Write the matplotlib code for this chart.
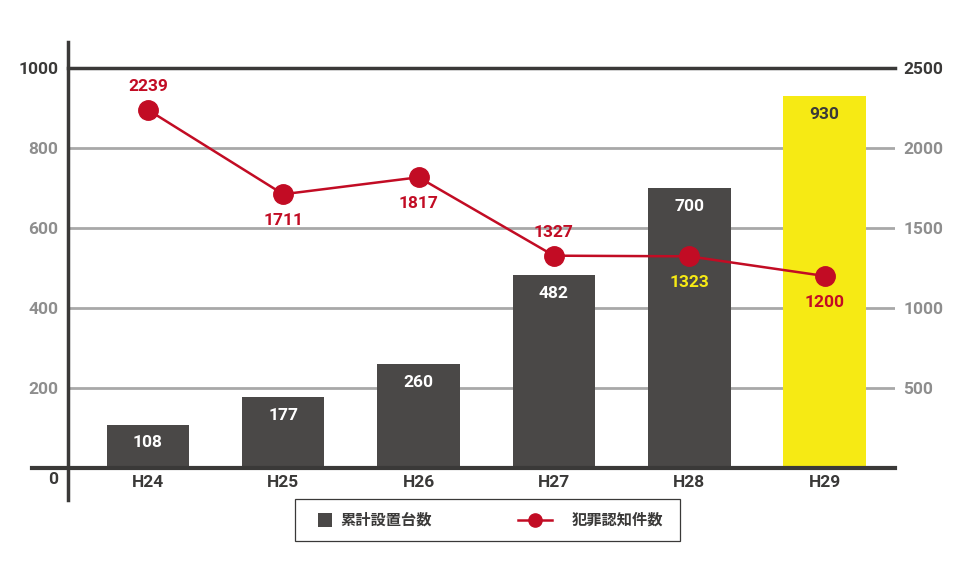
import matplotlib.pyplot as plt
from matplotlib.patches import Rectangle
from matplotlib.lines import Line2D

plt.rcParams['font.family'] = ['Roboto', 'Noto Sans CJK JP', 'DejaVu Sans']
plt.rcParams['font.weight'] = 'bold'

years = ['H24', 'H25', 'H26', 'H27', 'H28', 'H29']
installed = [108, 177, 260, 482, 700, 930]
crimes = [2239, 1711, 1817, 1327, 1323, 1200]
left_ticks = [200, 400, 600, 800, 1000]
right_ticks = [500, 1000, 1500, 2000, 2500]

DARK = '#3a3938'
BAR = '#4a4847'
YELLOW = '#f6ea14'
RED = '#c20c24'
GREY = '#8e8e8e'
GRID = '#a8a8a8'
FS = 12.5

W, H = 960, 566
fig = plt.figure(figsize=(W / 100, H / 100), dpi=100)
ax = fig.add_axes([68 / W, 1 - 468 / H, 827 / W, 400 / H])
ax2 = ax.twinx()

x = list(range(len(years)))
colors = [BAR] * (len(years) - 1) + [YELLOW]
ax.bar(x, installed, width=0.61, color=colors, zorder=3)
ax.set_xlim(-0.59, 5.52)
ax.set_ylim(0, 1000)
ax2.set_ylim(0, 2500)

for s in ['top', 'bottom', 'left', 'right']:
    ax.spines[s].set_visible(False)
    ax2.spines[s].set_visible(False)

# grid lines
for v in left_ticks[:-1]:
    ax.axhline(v, color=GRID, lw=2, zorder=1)
ax.axhline(1000, color=DARK, lw=2.5, zorder=1, clip_on=False)
ax.plot([-0.0435, 1], [0, 0], transform=ax.get_yaxis_transform(),
        color=DARK, lw=3, zorder=5, clip_on=False)
fig.add_artist(Line2D([68 / W, 68 / W], [1 - 42 / H, 1 - 500 / H],
                      color=DARK, lw=2.5))

# ticks
ax.set_xticks(x)
ax.set_xticklabels(years, fontsize=FS, color=DARK, fontweight='bold')
ax.tick_params(axis='x', length=0, pad=5)
ax.set_yticks(left_ticks)
ax.set_yticklabels([str(v) for v in left_ticks], fontsize=FS, fontweight='bold')
ax.tick_params(axis='y', length=0, pad=7)
for lbl in ax.get_yticklabels():
    lbl.set_color(DARK if lbl.get_text() == '1000' else GREY)
ax.text(-0.012, -0.03, '0', transform=ax.transAxes, ha='right', va='center',
        fontsize=FS, color=DARK, fontweight='bold')

ax2.set_yticks(right_ticks)
ax2.set_yticklabels([str(v) for v in right_ticks], fontsize=FS, fontweight='bold')
ax2.tick_params(axis='y', length=0, pad=6)
for lbl in ax2.get_yticklabels():
    lbl.set_color(DARK if lbl.get_text() == '2500' else GREY)

# bar labels
for i, v in enumerate(installed):
    ax.annotate(str(v), (i, v), xytext=(0, -13), textcoords='offset points',
                ha='center', va='center', fontsize=FS, fontweight='bold',
                color=DARK if i == len(years) - 1 else 'white', zorder=6)

# crime line
ax2.plot(x, crimes, color=RED, lw=1.8, marker='o', markersize=14, zorder=4)
offsets = [17, -19, -19, 17, -19, -19]
lcolors = [RED, RED, RED, RED, YELLOW, RED]
for i, v in enumerate(crimes):
    ax2.annotate(str(v), (i, v), xytext=(0, offsets[i]), textcoords='offset points',
                 ha='center', va='center', fontsize=FS, fontweight='bold',
                 color=lcolors[i], zorder=6)

# legend
fig.add_artist(Rectangle((295 / W, 1 - 541 / H), 385 / W, 42 / H,
                         fill=False, edgecolor=DARK, lw=0.9))
fig.add_artist(Rectangle((318 / W, 1 - 527 / H), 14 / W, 14 / H,
                         facecolor=BAR, edgecolor='none'))
fig.text(340 / W, 1 - 520 / H, '累計設置台数', ha='left', va='center',
         fontsize=11, color=DARK, fontweight='bold')
fig.add_artist(Line2D([518 / W, 552 / W], [1 - 520 / H, 1 - 520 / H],
                      color=RED, lw=1.8))
fig.add_artist(Line2D([535 / W], [1 - 520 / H], marker='o', markersize=9.5,
                      color=RED, lw=0))
fig.text(572 / W, 1 - 520 / H, '犯罪認知件数', ha='left', va='center',
         fontsize=11, color=DARK, fontweight='bold')

fig.savefig('out.png', dpi=100)
